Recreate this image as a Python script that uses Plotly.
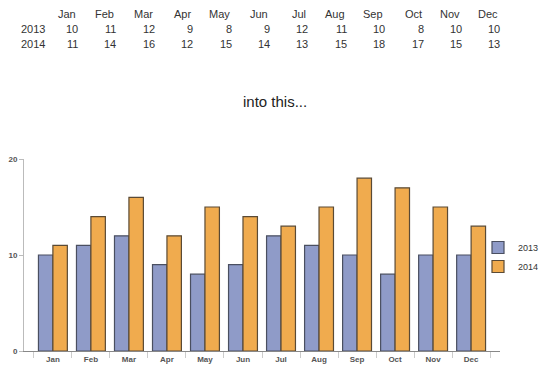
import plotly.graph_objects as go

months = ["Jan", "Feb", "Mar", "Apr", "May", "Jun", "Jul", "Aug", "Sep", "Oct", "Nov", "Dec"]
series_names = ["2013", "2014"]
values_2013 = [10, 11, 12, 9, 8, 9, 12, 11, 10, 8, 10, 10]
values_2014 = [11, 14, 16, 12, 15, 14, 13, 15, 18, 17, 15, 13]
y_ticks = [0, 10, 20]

# page body has an 8px margin; size the figure so it fits the 550x376 window
OFF = 8
W, H = 550 - OFF, 376 - OFF
L, R, T, B = 24 - OFF, 50, 159 - OFF, 25
PW, PH = W - L - R, H - T - B

def px(x):  # screenshot pixel -> paper x
    return (x - OFF - L) / PW

def py(y):  # screenshot pixel -> paper y
    return (H - B - (y - OFF)) / PH

fig = go.Figure()
fig.add_trace(go.Bar(
    x=months, y=values_2013, name=series_names[0],
    marker=dict(color="#8f9bc8", line=dict(color="#4a4f60", width=1.2)),
))
fig.add_trace(go.Bar(
    x=months, y=values_2014, name=series_names[1],
    marker=dict(color="#f0ab4e", line=dict(color="#5a4a35", width=1.2)),
))

font_family = "Liberation Sans, Arial, sans-serif"
annotations = []
col_right = [80 + 38.4 * i for i in range(12)]
for i, m in enumerate(months):
    annotations.append(dict(text=m, x=px(col_right[i] - 2), y=py(14), xref="paper", yref="paper",
                            xanchor="right", yanchor="middle", showarrow=False,
                            font=dict(size=11, color="#333", family=font_family)))
for r, (name, vals) in enumerate(zip(series_names, [values_2013, values_2014])):
    yy = 29 + r * 15
    annotations.append(dict(text=name, x=px(19), y=py(yy), xref="paper", yref="paper",
                            xanchor="left", yanchor="middle", showarrow=False,
                            font=dict(size=11, color="#333", family=font_family)))
    for i, v in enumerate(vals):
        annotations.append(dict(text=str(v), x=px(col_right[i]), y=py(yy), xref="paper", yref="paper",
                                xanchor="right", yanchor="middle", showarrow=False,
                                font=dict(size=11, color="#333", family=font_family)))
annotations.append(dict(text="into this...", x=px(275), y=py(101), xref="paper", yref="paper",
                        xanchor="center", yanchor="middle", showarrow=False,
                        font=dict(size=15, color="#222", family=font_family)))

tick_font = dict(size=8, color="#555", family=font_family, weight="bold")

fig.update_layout(
    width=W, height=H,
    margin=dict(l=L, r=R, t=T, b=B, pad=0, autoexpand=False),
    paper_bgcolor="white", plot_bgcolor="white",
    barmode="group", bargap=0.24, bargroupgap=0.0,
    font=dict(family=font_family, color="#333"),
    showlegend=True,
    legend=dict(x=px(478), y=py(233), xanchor="left", yanchor="top",
                font=dict(size=9, color="#333", family=font_family), itemwidth=30, tracegroupgap=0,
                bgcolor="rgba(0,0,0,0)"),
    annotations=annotations,
    xaxis=dict(range=[-0.76, 11.76], showgrid=False, zeroline=False,
               showline=True, linecolor="#888", linewidth=1,
               ticks="outside", tickson="boundaries", ticklen=6, tickcolor="#ccc",
               tickfont=tick_font),
    yaxis=dict(range=[0, 20], tickvals=y_ticks, showgrid=False, zeroline=False,
               showline=True, linecolor="#bbb", linewidth=1,
               ticks="outside", ticklen=4, tickcolor="#bbb",
               tickfont=tick_font),
)

fig.write_html("out.html")
